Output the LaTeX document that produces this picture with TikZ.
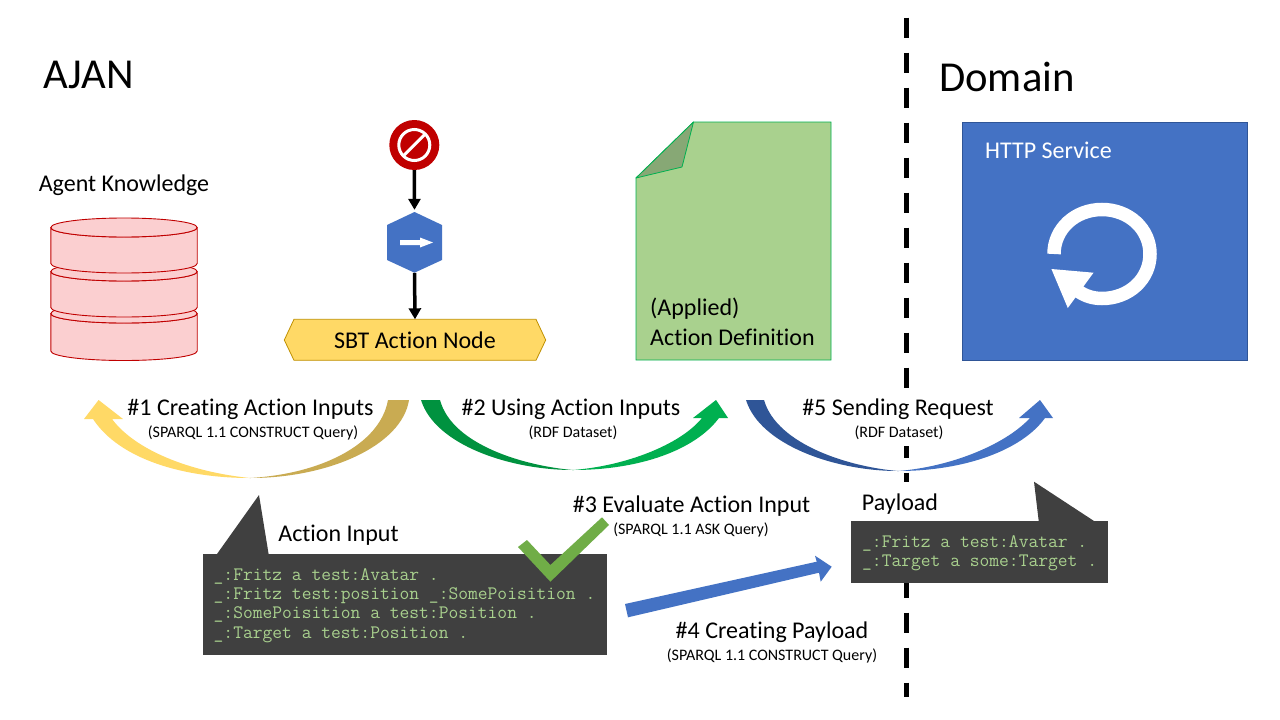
\documentclass[tikz,border=0pt]{standalone}
\usepackage{fontspec}
\setmainfont[Ligatures={NoCommon}]{Carlito}
\usetikzlibrary{arrows.meta}
\definecolor{blueA}{HTML}{4472C4}
\definecolor{blueD}{HTML}{2F5597}
\definecolor{yelA}{HTML}{FFD966}
\definecolor{yelD}{HTML}{C9AB52}
\definecolor{yelS}{HTML}{BF9000}
\definecolor{grnA}{HTML}{00B050}
\definecolor{grnD}{HTML}{00923F}
\definecolor{darkbox}{HTML}{404040}
\definecolor{codegreen}{HTML}{A9D18E}
\definecolor{docgreen}{HTML}{A9D18E}
\definecolor{foldgreen}{HTML}{87A875}
\definecolor{dbfill}{HTML}{FBCFD0}
\definecolor{stopred}{HTML}{C00000}
\definecolor{checkgreen}{HTML}{70AD47}
\newcommand{\cylpart}[2]{%
  \path[dbshape] (50.8,#1) -- (50.8,#2) .. controls (50.8,#2+5.25) and (83.6,#2+9.5) .. (124,#2+9.5)
    .. controls (164.4,#2+9.5) and (197.2,#2+5.25) .. (197.2,#2) -- (197.2,#1)
    .. controls (197.2,#1+5.25) and (164.4,#1+9.5) .. (124,#1+9.5)
    .. controls (83.6,#1+9.5) and (50.8,#1+5.25) .. (50.8,#1) -- cycle;
  \path[dbshape] (124,#1) ellipse [x radius=73.2, y radius=9.5];}
\tikzset{
  x=1pt,y=-1pt,
  lbl/.style={font=\fontsize{24}{30}\selectfont,inner sep=0pt,align=left},
  sublbl/.style={font=\fontsize{16}{19}\selectfont,inner sep=0pt},
  bigtitle/.style={font=\fontsize{42.67}{50}\selectfont,inner sep=0pt},
  codetxt/.style={font=\ttfamily\fontsize{19}{19.2}\selectfont,text=codegreen,inner sep=0pt,align=left,anchor=west},
  dbshape/.style={fill=dbfill,draw=stopred,line width=0.9pt,line join=round},
  flowarrow/.style={draw=black,line width=3.5pt,-{Triangle[length=11pt,width=12pt]}},
}
\begin{document}
\begin{tikzpicture}
\useasboundingbox (0,0) rectangle (1280,720);
\fill[white] (0,0) rectangle (1280,720);

% divider
\draw[line width=5pt,dash pattern=on 20pt off 15pt] (906.5,17.7) -- (906.5,696.7);
\fill[white] (795,388) rectangle (1000,446);
\fill[white] (860,482) rectangle (940,521);

% titles
\node[bigtitle,anchor=west] (ajan) at (43.5,75) {AJAN};
\node[bigtitle,anchor=west] (domain) at (939,77) {Domain};
\node[lbl] (knowledge) at (124,185) {Agent Knowledge};

% database
\cylpart{313.5}{351}
\cylpart{271.5}{307.5}
\cylpart{227.5}{263.5}

% behaviour tree
\node[circle,fill=stopred,minimum size=50pt,inner sep=0pt] (stop) at (414.3,145) {};
\draw[white,line width=3pt] (414.3,145) circle [radius=15.5];
\draw[white,line width=3pt] (403.3,156) -- (425.3,134);
\fill[blueA] (414.5,212) -- (442,225) -- (442,260) -- (414.5,272.7) -- (387,260) -- (387,225) -- cycle;
\node[minimum width=55pt,minimum height=60.7pt,inner sep=0pt] (hex) at (414.5,242.35) {};
\fill[white] (400,240) -- (420,240) -- (420,237.5) -- (433,242.5) -- (420,247.5) -- (420,245) -- (400,245) -- cycle;
\path[fill=yelA,draw=yelS,line width=0.8pt] (284.3,340) -- (294,319.3) -- (536,319.3) -- (545.7,340) -- (536,360.3) -- (294,360.3) -- cycle;
\node[lbl,minimum width=261pt,minimum height=41pt,align=center] (sbt) at (415,340) {SBT Action Node};
\draw[flowarrow,shorten >=2pt] (stop) -- (hex.north);
\draw[flowarrow] (hex.south) -- (sbt.north);

% document
\path[fill=docgreen,draw=grnA,line width=0.8pt] (693.5,122) -- (831,122) -- (831,360) -- (636,360) -- (636,178) -- cycle;
\path[fill=foldgreen,draw=grnA,line width=0.8pt,line join=round] (693.5,122) -- (682,167) -- (636,178) -- cycle;
\node[lbl,anchor=west] (def) at (650,322) {(Applied)\\Action Definition};

% service
\path[fill=blueA,draw=blueD,line width=0.8pt] (962,122) rectangle (1247,360);
\node[lbl,anchor=west,text=white] (http) at (985,150) {HTTP Service};
\draw[white,line width=13.5pt] (1054,254) .. controls (1054,229) and (1075,209.5) .. (1102,209.5)
  .. controls (1129,209.5) and (1150,229) .. (1150,254)
  .. controls (1150,279) and (1129,298.5) .. (1102,298.5)
  .. controls (1093,298.5) and (1085,296) .. (1078,291);
\fill[white] (1051.4,269) -- (1093.5,272.7) -- (1067.8,308) -- cycle;

% curved arrow 1
\fill[yelD] (409,400) .. controls (402,445) and (330,478) .. (250,478) .. controls (320,474) and (380,445) .. (388,400) -- cycle;
\fill[yelA] (250,478) .. controls (185,478) and (120,460) .. (93,419) -- (84,419) -- (98.6,400) -- (123,419) -- (112,419) .. controls (135,450) and (190,472) .. (250,478) -- cycle;
% curved arrow 2
\fill[grnD] (421,400) .. controls (435,445) and (510,470) .. (573,470) .. controls (525,466) and (452,445) .. (440,400) -- cycle;
\fill[grnA] (573,470) .. controls (640,470) and (695,450) .. (719,418) -- (728,418) -- (716,400) -- (693,418) -- (702,418) .. controls (680,445) and (625,466) .. (573,470) -- cycle;
% curved arrow 5
\fill[blueD] (746,400) .. controls (760,445) and (835,471) .. (898,471) .. controls (850,467) and (777,445) .. (764,400) -- cycle;
\fill[blueA] (898,471) .. controls (965,471) and (1022,450) .. (1045,418) -- (1053,418) -- (1040,400) -- (1019,418) -- (1030,418) .. controls (1005,445) and (950,467) .. (898,471) -- cycle;

% arrow labels
\node[lbl] (l1) at (250.5,409) {\#1 Creating Action Inputs};
\node[sublbl] (s1) at (253,433) {(SPARQL 1.1 CONSTRUCT Query)};
\node[lbl] (l2) at (571,409) {\#2 Using Action Inputs};
\node[sublbl] (s2) at (573,433) {(RDF Dataset)};
\node[lbl] (l5) at (898,409) {\#5 Sending Request};
\node[sublbl] (s5) at (899,433) {(RDF Dataset)};
\node[lbl] (l3) at (691.5,506) {\#3 Evaluate Action Input};
\node[sublbl] (s3) at (691,530) {(SPARQL 1.1 ASK Query)};
\node[lbl] (l4) at (772,632) {\#4 Creating Payload};
\node[sublbl] (s4) at (772,656) {(SPARQL 1.1 CONSTRUCT Query)};
\node[lbl] (lp) at (900,504) {Payload};
\node[lbl] (la) at (338.5,535) {Action Input};

% action input box
\fill[darkbox] (259,495) -- (268.6,554) -- (217,554) -- cycle;
\fill[darkbox] (203,554) rectangle (607,655);
\node[codetxt] (input) at (213.5,605.5) {\_:Fritz a test:Avatar .\\\_:Fritz test:position \_:SomePoisition .\\\_:SomePoisition a test:Position .\\\_:Target a test:Position .};

% payload box
\fill[darkbox] (1034,481.7) -- (1094,521) -- (1038.7,521) -- cycle;
\fill[darkbox] (851,521) rectangle (1108,582.7);
\node[codetxt] (payload) at (862,553.5) {\_:Fritz a test:Avatar .\\\_:Target a some:Target .};

% check mark
\fill[checkgreen] (518,547) -- (527,540) -- (550.4,565) -- (602,517.3) -- (609,525) -- (550.4,581.7) -- cycle;

% arrow 4
\fill[blueA] (625,604) -- (816.7,561.7) -- (815,555.7) -- (831.7,566.7) -- (820.7,581.7) -- (819,572.7) -- (628,617.3) -- cycle;
\end{tikzpicture}
\end{document}
